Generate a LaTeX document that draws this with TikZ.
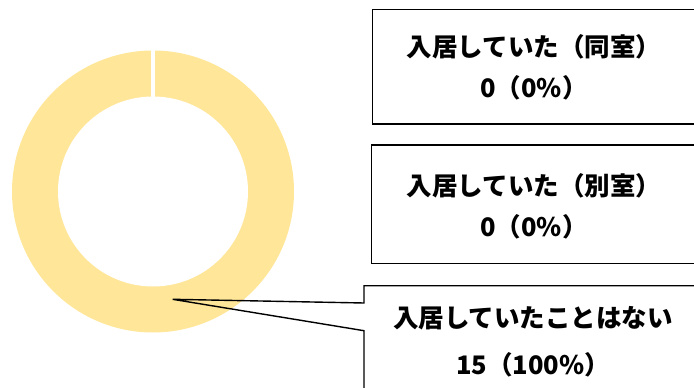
\documentclass[tikz,border=0pt]{standalone}
\usepackage{fontspec}
\newfontfamily\jpfont{Noto Sans CJK JP}
\definecolor{ringfill}{RGB}{255,230,153}
\tikzset{
   label box/.style={draw, line width=1.4pt},
   label text/.style={align=center, font=\jpfont\bfseries\fontsize{25.5}{41}\selectfont}
}
\begin{document}
\begin{tikzpicture}[x=1pt, y=-1pt]
   \useasboundingbox (0,0) rectangle (694,388);
   \clip (0,0) rectangle (694,388);
   % ring
   \coordinate (c) at (153,191.5);
   \fill[ringfill] (c) circle[radius=141pt];
   \fill[white] (c) circle[radius=95pt];
   \draw[white, line width=4pt] (153,97) -- (153,49);
   % boxes
   \def \Boxes {
      1/372.7/9.3/124,
      2/371.7/145/263.3}
   \foreach \u / \x / \t / \b in \Boxes {
      \path[label box] (700,\t) -- (\x,\t) -- (\x,\b) -- (700,\b);
   }
   \coordinate (tip) at (172.7,299.3);
   \path[label box, line join=miter] (700,285.7) -- (364,285.7) -- (364,303)
      -- (tip) -- (364,330.7) -- (364,400);
   % texts
   \def \Labels {
      1/534/67.5/入居していた（同室）/0（0\%）,
      2/534/206/入居していた（別室）/0（0\%）,
      3/533/341.5/入居していたことはない/15（100\%）}
   \foreach \u / \x / \y / \a / \v in \Labels {
      \node[label text] (t\u) at (\x,\y) {\a\\[\ifnum\u=3 6pt\else 0pt\fi]\v};
   }
\end{tikzpicture}
\end{document}
